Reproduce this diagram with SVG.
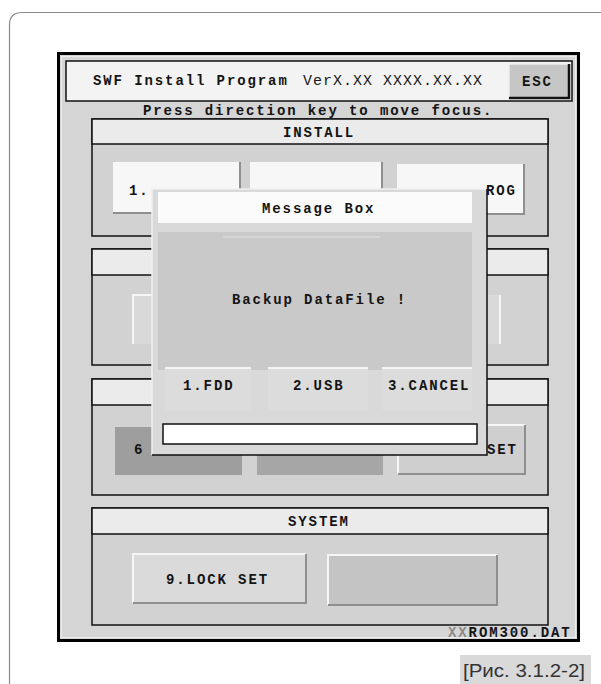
<svg xmlns="http://www.w3.org/2000/svg" width="601" height="684" viewBox="0 0 601 684">
<style>
.t{font-family:"Liberation Mono","DejaVu Sans Mono",monospace;font-weight:bold;font-size:14px;letter-spacing:1.9px;fill:#141414}
.tl{font-family:"Liberation Mono","DejaVu Sans Mono",monospace;font-weight:normal;font-size:15px;letter-spacing:1px;fill:#1a1a1a}
.sec{fill:#d2d2d2;stroke:#111;stroke-width:1.5}
.band{fill:#ebebeb;stroke:#111;stroke-width:1.5}
.wbtn{fill:#f7f7f7;stroke:none}
.shadow{fill:none;stroke:#8f8f8f;stroke-width:2}
.hl{fill:none;stroke:#f6f6f6;stroke-width:2}
</style>
<rect width="601" height="684" fill="#ffffff"/>
<g id="frame">
<path d="M9.5 688 V25 Q9.5 12.5 22 12.5 H601" fill="none" stroke="#8a8a8a" stroke-width="1.2"/>
</g>
<g id="window">
<rect x="58.5" y="53.5" width="520" height="587" fill="#d5d5d5" stroke="#000" stroke-width="3"/>
<rect x="61.5" y="56.5" width="514" height="581" fill="none" stroke="#ececec" stroke-width="1"/>
</g>
<g id="header">
<rect x="66" y="61" width="506" height="40" fill="#f3f3f3" stroke="#111" stroke-width="1.5"/>
<text class="t" x="93" y="85">SWF Install Program</text>
<text class="tl" x="303" y="85">VerX.XX XXXX.XX.XX</text>
</g>
<g id="esc">
<rect x="509" y="64" width="60" height="34" fill="#c6c6c6"/>
<polyline points="509,98 509,64 569,64" fill="none" stroke="#eeeeee" stroke-width="1.5"/>
<polyline points="509,98 569,98 569,64" fill="none" stroke="#111" stroke-width="2.5"/>
<text class="t" x="522" y="86">ESC</text>
</g>
<g id="hint">
<text class="t" x="143" y="115">Press direction key to move focus.</text>
</g>
<g id="sec-install">
<rect class="sec" x="92" y="119" width="456" height="117"/>
<rect class="band" x="92" y="119" width="456" height="25"/>
<text class="t" x="283" y="137">INSTALL</text>
<rect class="wbtn" x="113" y="162" width="127" height="51"/>
<polyline class="shadow" points="113,213 240,213 240,162"/>
<rect class="wbtn" x="250" y="162" width="132" height="51"/>
<polyline class="shadow" points="250,213 382,213 382,162"/>
<rect class="wbtn" x="397" y="164" width="127" height="50"/>
<polyline class="shadow" points="397,214 524,214 524,164"/>
<text class="t" x="129" y="195">1.</text>
<text class="t" x="486" y="195">ROG</text>
</g>
<g id="sec-2">
<rect class="sec" x="92" y="249" width="456" height="116"/>
<rect class="band" x="92" y="249" width="456" height="26"/>
<rect x="133" y="295" width="173" height="49" fill="#d9d9d9"/>
<polyline class="hl" points="133,344 133,295 306,295"/>
<rect x="328" y="295" width="172" height="49" fill="#d9d9d9"/>
<polyline class="hl" points="500,295 500,344"/>
</g>
<g id="sec-3">
<rect class="sec" x="92" y="379" width="456" height="116"/>
<rect class="band" x="92" y="379" width="456" height="26"/>
<rect x="115" y="427" width="127" height="48" fill="#9e9e9e"/>
<rect x="257" y="427" width="126" height="48" fill="#a6a6a6"/>
<rect x="398" y="425" width="127" height="49" fill="#cfcfcf"/>
<polyline class="hl" points="398,474 398,425 525,425"/>
<polyline class="shadow" points="398,474 525,474 525,425"/>
<text class="t" x="134" y="454">6</text>
<text class="t" x="487" y="454">SET</text>
</g>
<g id="sec-system">
<rect class="sec" x="92" y="508" width="456" height="117"/>
<rect class="band" x="92" y="508" width="456" height="26"/>
<text class="t" x="288" y="526">SYSTEM</text>
<rect x="133" y="554" width="173" height="49" fill="#dadada"/>
<polyline class="hl" points="133,603 133,554 306,554"/>
<polyline class="shadow" points="133,603 306,603 306,554"/>
<text class="t" x="166" y="584">9.LOCK SET</text>
<rect x="328" y="555" width="169" height="50" fill="#c4c4c4"/>
<polyline class="hl" points="328,605 328,555 497,555"/>
<polyline class="shadow" points="328,605 497,605 497,555"/>
</g>
<g id="file">
<text class="t" x="448" y="637"><tspan fill="#8a8a8a">XX</tspan>ROM300.DAT</text>
</g>
<g id="message-box">
<rect x="152" y="189" width="335" height="266" fill="#d9d9d9"/>
<polyline points="152,455 152,189 487,189" fill="none" stroke="#f0f0f0" stroke-width="1.5"/>
<polyline points="152,455 487,455 487,189" fill="none" stroke="#111" stroke-width="1.5"/>
<rect x="158" y="192" width="314" height="31" fill="#fbfbfb"/>
<text class="t" x="262" y="213">Message Box</text>
<rect x="158" y="232" width="314" height="138" fill="#c9c9c9"/>
<line x1="223" y1="237" x2="380" y2="237" stroke="#e2e2e2" stroke-width="1"/>
<text class="t" x="232" y="304">Backup DataFile !</text>
<rect x="165" y="368" width="86" height="42" fill="#dcdcdc"/>
<line x1="165" y1="368" x2="251" y2="368" stroke="#f4f4f4" stroke-width="2"/>
<rect x="268" y="368" width="100" height="42" fill="#dcdcdc"/>
<line x1="268" y1="368" x2="368" y2="368" stroke="#f4f4f4" stroke-width="2"/>
<rect x="382" y="368" width="90" height="42" fill="#dcdcdc"/>
<line x1="382" y1="368" x2="472" y2="368" stroke="#f4f4f4" stroke-width="2"/>
<text class="t" x="183" y="390">1.FDD</text>
<text class="t" x="293" y="390">2.USB</text>
<text class="t" x="388" y="390">3.CANCEL</text>
<rect x="163" y="424" width="314" height="20" fill="#ffffff" stroke="#111" stroke-width="1.5"/>
</g>
<g id="connectors"/>
<g id="caption">
<rect x="460" y="655" width="131" height="29" fill="#d9d9d9"/>
<text x="463" y="677" font-family="'Liberation Sans',Arial,sans-serif" font-size="18" fill="#333" textLength="122" lengthAdjust="spacingAndGlyphs">[Рис. 3.1.2-2]</text>
</g>
</svg>
